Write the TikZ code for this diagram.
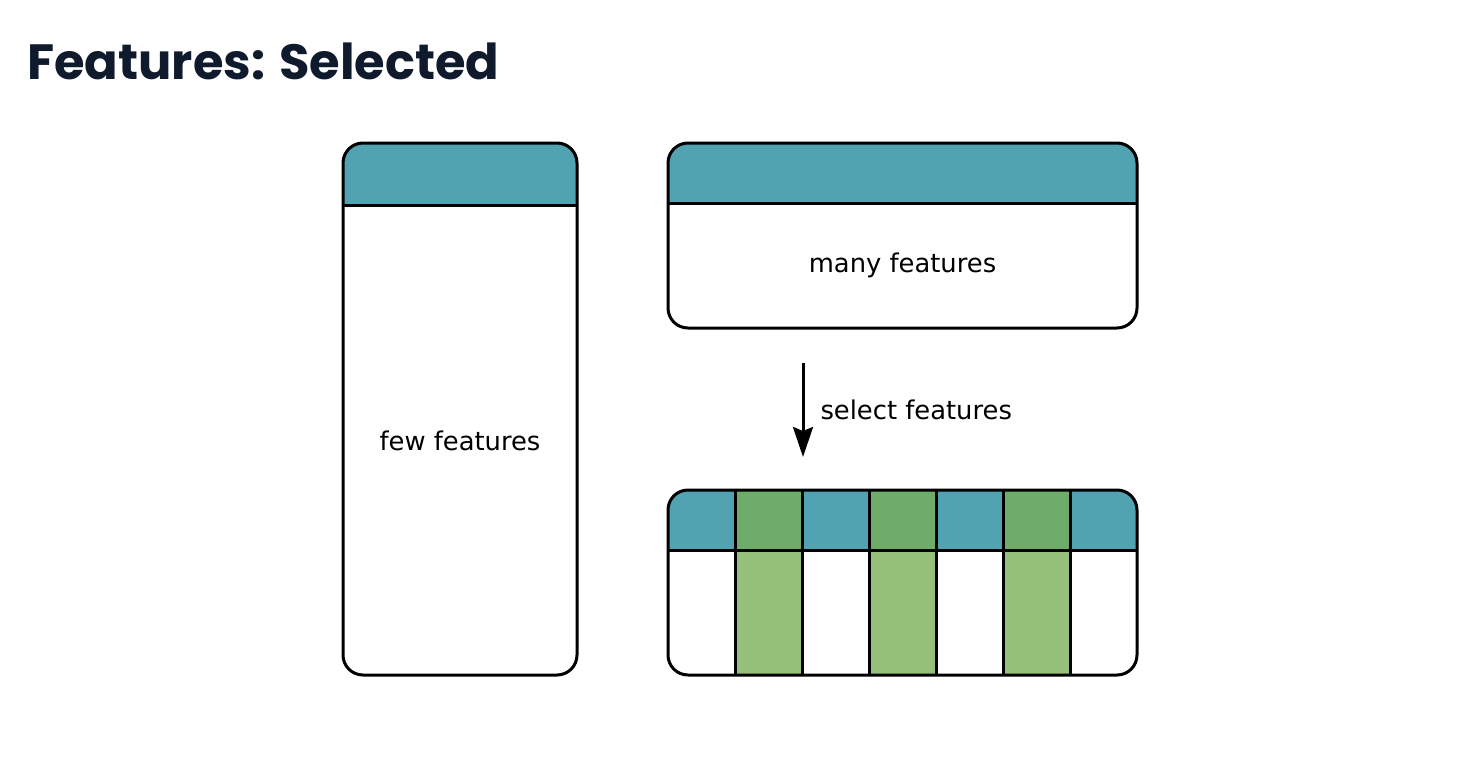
\documentclass[tikz,border=0pt]{standalone}
\usepackage{fontspec}
\setmainfont{DejaVu Sans}
\newfontfamily\titlefont{Poppins}
\usepackage{xcolor}
\usepackage{tikz}
\usetikzlibrary{arrows.meta,positioning,calc}

\definecolor{headteal}{HTML}{52A3B2}
\definecolor{selgreen}{HTML}{78AF55}
\definecolor{titleink}{HTML}{0F1B2D}

\begin{document}
\begin{tikzpicture}[
		x=1pt, y=-1pt,
		font=\fontsize{25.8}{30}\selectfont,
		>=Stealth,
		rule/.style={line width=3pt, sharp corners},
		flow/.style={-{Stealth[length=30pt,width=20pt,inset=4pt]}, line width=3pt},
		lbl/.style={inner sep=0pt, text=black},
		panel/.style={draw, line width=3pt, fill=white, rounded corners=20pt, minimum width=#1},
		hdr/.style={path picture={
				\fill[headteal, sharp corners] (path picture bounding box.north west) rectangle ([yshift=-#1]path picture bounding box.north east);
				\draw[rule] ([yshift=-#1]path picture bounding box.north west) -- ([yshift=-#1]path picture bounding box.north east);
		}},
		selhdr/.style={path picture={
				\fill[headteal, sharp corners] (path picture bounding box.north west) rectangle ([yshift=-#1]path picture bounding box.north east);
				\foreach \i in {1,3,5}
				\fill[selgreen, fill opacity=.78, sharp corners] ($(path picture bounding box.north west)!{\i/7}!(path picture bounding box.north east)$) rectangle ($(path picture bounding box.south west)!{(\i+1)/7}!(path picture bounding box.south east)$);
				\draw[rule] ([yshift=-#1]path picture bounding box.north west) -- ([yshift=-#1]path picture bounding box.north east);
				\foreach \i in {1,...,6}
				\draw[rule] ($(path picture bounding box.north west)!{\i/7}!(path picture bounding box.north east)$) -- ($(path picture bounding box.south west)!{\i/7}!(path picture bounding box.south east)$);
		}}
		]
		\useasboundingbox (0,0) rectangle (1480,760);
		
		% Title
		\node[anchor=base west, inner sep=0pt, text=titleink, font=\titlefont\bfseries\fontsize{49.5}{58}\selectfont] (title) at (27,79) {Features: Selected};
		
		% Tables
		\node[panel=234pt, minimum height=532pt, hdr=62pt] (few) at (460,409) {};
		\node[panel=469pt, minimum height=185pt, hdr=60pt] (many) at (902.5,235.5) {};
		\node[panel=469pt, minimum height=185pt, selhdr=60pt] (sel) at (902.5,582.5) {};
		
		% Labels
		\node[lbl] (fewtxt) at (460,441) {few features};
		\node[lbl] (manytxt) at (902.5,265.5) {many features};
		
		% Selection step
		\coordinate (selstart) at (803,363);
		\coordinate (selend) at (803,457);
		\draw[flow] (selstart) -- node[right, xshift=16pt, lbl]{select features} (selend);
	\end{tikzpicture}
\end{document}
